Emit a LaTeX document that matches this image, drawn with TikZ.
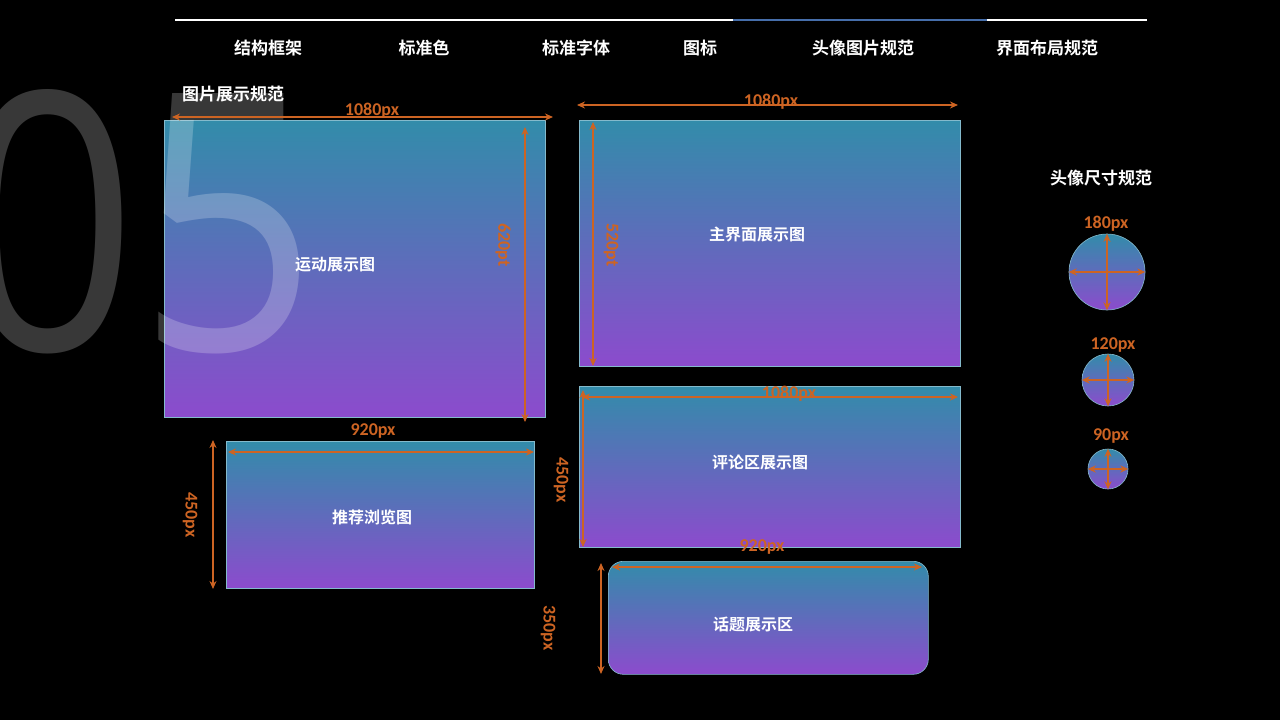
\documentclass[tikz,border=0pt]{standalone}
\usepackage{fontspec}
\newfontfamily\cjk{Noto Sans CJK SC}[BoldFont={* Bold}]
\newfontfamily\dig{Carlito}
\newfontfamily\ghostfont{Open Sans}
\usetikzlibrary{arrows.meta}
\definecolor{ctop}{RGB}{50,140,170}
\definecolor{cbot}{RGB}{140,75,205}
\definecolor{org}{RGB}{205,100,35}
\definecolor{menublue}{RGB}{70,110,170}
\tikzset{
  card/.style={top color=ctop,bottom color=cbot,draw=ctop!60!white,line width=0.6pt},
  dim/.style={org,line width=1.8pt,{Stealth[length=8pt,width=7pt]}-{Stealth[length=8pt,width=7pt]}},
  dimlab/.style={text=org,font=\dig\bfseries\fontsize{18}{18}\selectfont,inner sep=0pt},
  lab/.style={text=white,font=\cjk\bfseries\fontsize{16}{16}\selectfont},
  menu/.style={text=white,font=\cjk\bfseries\fontsize{17}{17}\selectfont}
}
\begin{document}
\begin{tikzpicture}[x=1pt,y=-1pt]
\fill[black] (0,0) rectangle (1280,720);
\useasboundingbox (0,0) rectangle (1280,720);
% top bar
\draw[white,line width=2.5pt] (175,20) -- (1147,20);
\draw[menublue,line width=2.5pt] (733,20) -- (987,20);
\node[menu] (m1) at (268,48) {结构框架};
\node[menu] (m2) at (424,48) {标准色};
\node[menu] (m3) at (576,48) {标准字体};
\node[menu] (m4) at (700,48) {图标};
\node[menu] (m5) at (863,48) {头像图片规范};
\node[menu] (m6) at (1047,48) {界面布局规范};
% rectangles
\node[card,minimum width=381,minimum height=297,inner sep=0,anchor=north west] (r1) at (164,120) {};
\node[text=white,opacity=0.22,font=\ghostfont\fontsize{360}{360}\selectfont,inner sep=0,xscale=0.87] (bg) at (138,222) {05};
\node[lab] (l1) at (335,265) {运动展示图};
\node[card,minimum width=381,minimum height=246,inner sep=0,anchor=north west] (r2) at (579,120) {};
\node[lab] (l2) at (757,234) {主界面展示图};
\node[card,minimum width=381,minimum height=161,inner sep=0,anchor=north west] (r3) at (579,386) {};
\node[lab] (l3) at (760,462) {评论区展示图};
\node[card,minimum width=320,minimum height=113,inner sep=0,rounded corners=15pt,anchor=north west] (r4) at (608,561) {};
\node[lab] (l4) at (753,624) {话题展示区};
\node[card,minimum width=308,minimum height=147,inner sep=0,anchor=north west] (r5) at (226,441) {};
\node[lab] (l5) at (372,517) {推荐浏览图};
\node[menu] (t1) at (233,94) {图片展示规范};
\node[menu] (t2) at (1101,178) {头像尺寸规范};
% dimensions
\coordinate (a1) at (172,117); \coordinate (a2) at (553,117);
\draw[dim] (a1) -- (a2); \node[dimlab] at (372,111) {1080px};
\coordinate (a3) at (525,127); \coordinate (a4) at (525,422);
\draw[dim] (a3) -- (a4); \node[dimlab,rotate=-90] at (503,245) {620pt};
\coordinate (b1) at (577,105); \coordinate (b2) at (958,105);
\draw[dim] (b1) -- (b2); \node[dimlab] at (771,102) {1080px};
\coordinate (b3) at (593,122); \coordinate (b4) at (593,366);
\draw[dim] (b3) -- (b4); \node[dimlab,rotate=-90] at (611,245) {520pt};
\coordinate (c1) at (582,397); \coordinate (c2) at (958,397);
\draw[dim] (c1) -- (c2); \node[dimlab] at (789,394) {1080px};
\coordinate (c3) at (583,390); \coordinate (c4) at (583,547);
\draw[dim] (c3) -- (c4); \node[dimlab,rotate=-90] at (561,480) {450px};
\coordinate (d1) at (612,567); \coordinate (d2) at (922,567);
\draw[dim] (d1) -- (d2); \node[dimlab] at (762,547) {920px};
\coordinate (d3) at (601,563); \coordinate (d4) at (601,674);
\draw[dim] (d3) -- (d4); \node[dimlab,rotate=-90] at (548,628) {350px};
\coordinate (e1) at (228,452); \coordinate (e2) at (534,452);
\draw[dim] (e1) -- (e2); \node[dimlab] at (373,431) {920px};
\coordinate (e3) at (213,440); \coordinate (e4) at (213,589);
\draw[dim] (e3) -- (e4); \node[dimlab,rotate=-90] at (190,515) {450px};
% circles
\foreach \n/\cx/\cy/\r/\lx/\ly/\t in {p/1107/272/38/1106/224/180px,q/1108/380/26/1113/345/120px,s/1108/469/20/1111/436/90px}{
  \node[circle,card,minimum size=2*\r,inner sep=0] (\n) at (\cx,\cy) {};
  \draw[dim] (\n.west) -- (\n.east);
  \draw[dim] (\n.north) -- (\n.south);
  \node[dimlab] at (\lx,\ly) {\t};
}
\end{tikzpicture}
\end{document}
